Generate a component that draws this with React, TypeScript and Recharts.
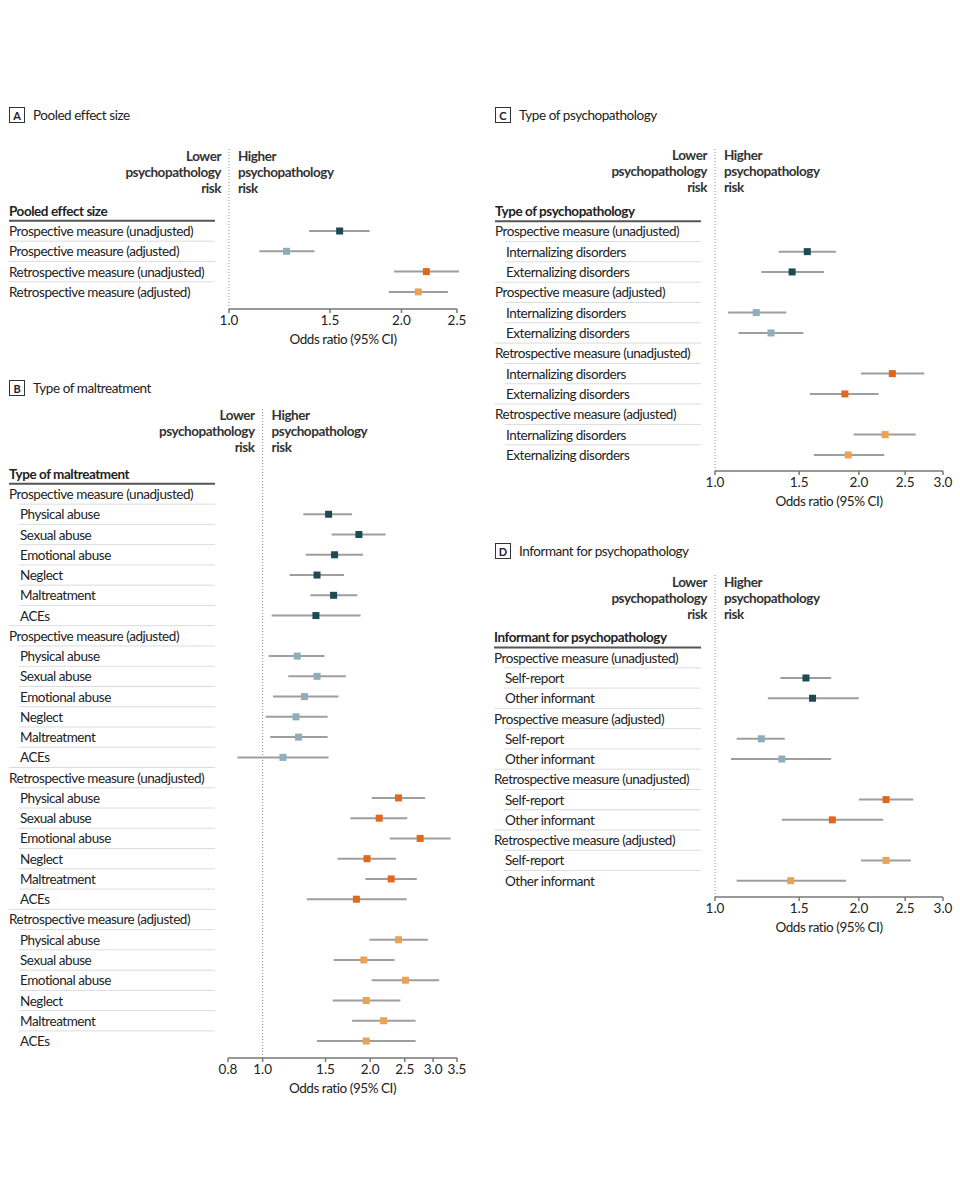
import React from 'react';
import { ScatterChart, Scatter, XAxis, YAxis, ReferenceLine, ErrorBar } from 'recharts';

const FONT = "Lato, 'Liberation Sans Narrow', Roboto, sans-serif";

// ---------- Data ----------
const measureGroups = [
  'Prospective measure (unadjusted)',
  'Prospective measure (adjusted)',
  'Retrospective measure (unadjusted)',
  'Retrospective measure (adjusted)',
];
const seriesKeys = ['prospUnadj', 'prospAdj', 'retroUnadj', 'retroAdj'];
const seriesColors = ['#1e4a56', '#8eaebb', '#e0671c', '#eca255'];

// Panel A: pooled effect size
const pooledOR = [1.56, 1.26, 2.21, 2.14];
const pooledLow = [1.38, 1.13, 1.94, 1.9];
const pooledHigh = [1.76, 1.41, 2.52, 2.41];

// Panel B: type of maltreatment
const maltreatmentTypes = ['Physical abuse', 'Sexual abuse', 'Emotional abuse', 'Neglect', 'Maltreatment', 'ACEs'];
const maltProspUnadjOR = [1.53, 1.86, 1.59, 1.42, 1.58, 1.41];
const maltProspUnadjLow = [1.3, 1.56, 1.32, 1.19, 1.36, 1.06];
const maltProspUnadjHigh = [1.78, 2.21, 1.91, 1.69, 1.84, 1.88];
const maltProspAdjOR = [1.25, 1.42, 1.31, 1.24, 1.26, 1.14];
const maltProspAdjLow = [1.04, 1.18, 1.07, 1.02, 1.05, 0.85];
const maltProspAdjHigh = [1.49, 1.71, 1.63, 1.52, 1.52, 1.53];
const maltRetroUnadjOR = [2.4, 2.12, 2.76, 1.96, 2.29, 1.83];
const maltRetroUnadjLow = [2.02, 1.76, 2.27, 1.62, 1.94, 1.33];
const maltRetroUnadjHigh = [2.85, 2.54, 3.36, 2.36, 2.7, 2.53];
const maltRetroAdjOR = [2.4, 1.92, 2.51, 1.95, 2.18, 1.95];
const maltRetroAdjLow = [1.99, 1.58, 2.02, 1.57, 1.78, 1.42];
const maltRetroAdjHigh = [2.9, 2.34, 3.12, 2.43, 2.68, 2.68];

// Panel C: type of psychopathology
const psychTypes = ['Internalizing disorders', 'Externalizing disorders'];
const psyProspUnadjOR = [1.56, 1.45];
const psyProspUnadjLow = [1.36, 1.25];
const psyProspUnadjHigh = [1.79, 1.69];
const psyProspAdjOR = [1.22, 1.31];
const psyProspAdjLow = [1.065, 1.12];
const psyProspAdjHigh = [1.41, 1.53];
const psyRetroUnadjOR = [2.35, 1.87];
const psyRetroUnadjLow = [2.02, 1.58];
const psyRetroUnadjHigh = [2.74, 2.2];
const psyRetroAdjOR = [2.27, 1.9];
const psyRetroAdjLow = [1.95, 1.61];
const psyRetroAdjHigh = [2.63, 2.26];

// Panel D: informant for psychopathology
const informants = ['Self-report', 'Other informant'];
const infProspUnadjOR = [1.55, 1.6];
const infProspUnadjLow = [1.37, 1.29];
const infProspUnadjHigh = [1.75, 2.0];
const infProspAdjOR = [1.25, 1.38];
const infProspAdjLow = [1.11, 1.08];
const infProspAdjHigh = [1.4, 1.75];
const infRetroUnadjOR = [2.28, 1.76];
const infRetroUnadjLow = [2.0, 1.38];
const infRetroUnadjHigh = [2.6, 2.25];
const infRetroAdjOR = [2.28, 1.44];
const infRetroAdjLow = [2.02, 1.11];
const infRetroAdjHigh = [2.57, 1.88];

const ticksA = [1.0, 1.5, 2.0, 2.5];
const ticksB = [0.8, 1.0, 1.5, 2.0, 2.5, 3.0, 3.5];
const ticksCD = [1.0, 1.5, 2.0, 2.5, 3.0];

// ---------- Row builders ----------
type Row = { label: string; indent?: boolean; group?: boolean; or?: number; lo?: number; hi?: number; series?: number };

function pooledRows(): Row[] {
  return measureGroups.map((g, i) => ({ label: g, or: pooledOR[i], lo: pooledLow[i], hi: pooledHigh[i], series: i }));
}

function groupedRows(items: string[], sets: number[][][]): Row[] {
  const rows: Row[] = [];
  measureGroups.forEach((g, gi) => {
    rows.push({ label: g, group: true });
    const [or, lo, hi] = sets[gi];
    items.forEach((it, k) => rows.push({ label: it, indent: true, or: or[k], lo: lo[k], hi: hi[k], series: gi }));
  });
  return rows;
}

const rowsA = pooledRows();
const rowsB = groupedRows(maltreatmentTypes, [
  [maltProspUnadjOR, maltProspUnadjLow, maltProspUnadjHigh],
  [maltProspAdjOR, maltProspAdjLow, maltProspAdjHigh],
  [maltRetroUnadjOR, maltRetroUnadjLow, maltRetroUnadjHigh],
  [maltRetroAdjOR, maltRetroAdjLow, maltRetroAdjHigh],
]);
const rowsC = groupedRows(psychTypes, [
  [psyProspUnadjOR, psyProspUnadjLow, psyProspUnadjHigh],
  [psyProspAdjOR, psyProspAdjLow, psyProspAdjHigh],
  [psyRetroUnadjOR, psyRetroUnadjLow, psyRetroUnadjHigh],
  [psyRetroAdjOR, psyRetroAdjLow, psyRetroAdjHigh],
]);
const rowsD = groupedRows(informants, [
  [infProspUnadjOR, infProspUnadjLow, infProspUnadjHigh],
  [infProspAdjOR, infProspAdjLow, infProspAdjHigh],
  [infRetroUnadjOR, infRetroUnadjLow, infRetroUnadjHigh],
  [infRetroAdjOR, infRetroAdjLow, infRetroAdjHigh],
]);

// ---------- Components ----------
const TEXT = '#222';
const FS = 13.5;
const LS = -0.45;

function RowTick(props: any) {
  const { y, payload, rows, labelX, colRight, rowStep, header } = props;
  const v = Math.round(payload.value);
  if (v === -1) {
    return (
      <g>
        <text x={labelX} y={y} dominantBaseline="central" fontSize={FS} letterSpacing={LS} fontWeight="bold" fill={TEXT} fontFamily={FONT}>
          {header}
        </text>
        <line x1={labelX} x2={colRight} y1={y + rowStep / 2} y2={y + rowStep / 2} stroke="#555" strokeWidth={2} />
      </g>
    );
  }
  const r: Row = rows[v];
  if (!r) return null;
  const next: Row | undefined = rows[v + 1];
  return (
    <g>
      <text x={labelX + (r.indent ? 11 : 0)} y={y} dominantBaseline="central" fontSize={FS} letterSpacing={LS} fill={TEXT} fontFamily={FONT}>
        {r.label}
      </text>
      {next && (
        <line x1={labelX + (next.indent ? 10 : 0)} x2={colRight} y1={y + rowStep / 2} y2={y + rowStep / 2} stroke="#dcdcdc" strokeWidth={1} />
      )}
    </g>
  );
}

function RiskLabel(props: any) {
  const vb = props.viewBox || {};
  const x = vb.x;
  const top = vb.y;
  const lines = [['Lower', 'Higher'], ['psychopathology', 'psychopathology'], ['risk', 'risk']];
  return (
    <g fontFamily={FONT} fontSize={FS} letterSpacing={LS} fontWeight="bold" fill="#333">
      {lines.map((l, i) => (
        <g key={i}>
          <text x={x - 8} y={top + 8 + i * 16} textAnchor="end" dominantBaseline="central">{l[0]}</text>
          <text x={x + 9} y={top + 8 + i * 16} textAnchor="start" dominantBaseline="central">{l[1]}</text>
        </g>
      ))}
    </g>
  );
}

function AxisTitle(props: any) {
  const vb = props.viewBox || {};
  return (
    <text x={vb.x + vb.width / 2} y={vb.y + 30} textAnchor="middle" dominantBaseline="central" fontSize={FS} letterSpacing={LS} fill={TEXT} fontFamily={FONT}>
      Odds ratio (95% CI)
    </text>
  );
}

function PanelTitle({ letter, title, x, y }: { letter: string; title: string; x: number; y: number }) {
  return (
    <div style={{ position: 'absolute', left: x, top: y, display: 'flex', alignItems: 'center', fontFamily: FONT, color: TEXT }}>
      <span style={{ boxSizing: 'border-box', width: 16, height: 16, border: '1px solid #333', fontSize: 11, fontWeight: 'bold', display: 'inline-flex', alignItems: 'center', justifyContent: 'center' }}>{letter}</span>
      <span style={{ marginLeft: 8, fontSize: FS, letterSpacing: LS }}>{title}</span>
    </div>
  );
}

type Cfg = {
  left: number; chartTop: number; width: number; plotTop: number; axisY: number;
  plotLeft: number; plotRight: number; labelX: number; colRight: number;
  firstRowY: number; rowStep: number; rows: Row[]; domain: [number, number]; ticks: number[];
  header: string;
};

function ForestPanel({ cfg }: { cfg: Cfg }) {
  const { left, chartTop, width, plotTop, axisY, plotLeft, plotRight, labelX, colRight, firstRowY, rowStep, rows, domain, ticks, header } = cfg;
  const n = rows.length;
  const axisH = 45;
  const height = axisY - chartTop + axisH + 6;
  const yMin = -(firstRowY - plotTop) / rowStep;
  const yMax = n - 1 + (axisY - (firstRowY + (n - 1) * rowStep)) / rowStep;
  const yTicks = [-1, ...rows.map((_, i) => i)];
  const points = rows.map((r, i) => ({ ...r, y: i })).filter((r) => r.or != null).map((r) => ({ x: r.or as number, y: r.y, err: [(r.or as number) - (r.lo as number), (r.hi as number) - (r.or as number)], series: r.series }));
  return (
    <div style={{ position: 'absolute', left, top: chartTop }}>
      <ScatterChart width={width} height={height} margin={{ top: plotTop - chartTop, right: width - (plotRight - left), left: 0, bottom: 6 }}>
        <XAxis
          type="number"
          dataKey="x"
          scale="log"
          domain={domain}
          ticks={ticks}
          allowDataOverflow
          interval={0}
          height={axisH}
          tickFormatter={(v: number) => v.toFixed(1)}
          axisLine={{ stroke: '#777', strokeWidth: 1.5 }}
          tickLine={{ stroke: '#777', strokeWidth: 1.5 }}
          tickSize={4}
          tick={{ fontSize: FS, fill: TEXT, fontFamily: FONT }}
          label={<AxisTitle />}
        />
        <YAxis
          type="number"
          dataKey="y"
          domain={[yMin, yMax]}
          reversed
          allowDataOverflow
          ticks={yTicks}
          interval={0}
          width={plotLeft - left}
          axisLine={false}
          tickLine={false}
          tick={(p: any) => <RowTick {...p} rows={rows} labelX={labelX - left} colRight={colRight - left} rowStep={rowStep} header={header} />}
        />
        <ReferenceLine x={1} stroke="#8a8a8a" strokeDasharray="1 2" label={<RiskLabel />} />
        {seriesKeys.map((k, si) => (
          <Scatter
            key={k}
            name={measureGroups[si]}
            data={points.filter((p) => p.series === si)}
            isAnimationActive={false}
            shape={(sp: any) => <rect x={sp.cx - 3.5} y={sp.cy - 3.5} width={7} height={7} fill={seriesColors[si]} />}
          >
            <ErrorBar dataKey="err" direction="x" width={0} stroke="#9e9e9e" strokeWidth={2} />
          </Scatter>
        ))}
      </ScatterChart>
    </div>
  );
}

const cfgA: Cfg = {
  left: 0, chartTop: 130, width: 480, plotTop: 148, axisY: 309, plotLeft: 229, plotRight: 457,
  labelX: 9, colRight: 215, firstRowY: 231, rowStep: 20.3, rows: rowsA, domain: [1.0, 2.5], ticks: ticksA,
  header: 'Pooled effect size',
};
const cfgB: Cfg = {
  left: 0, chartTop: 400, width: 480, plotTop: 407, axisY: 1058, plotLeft: 228, plotRight: 457,
  labelX: 9, colRight: 215, firstRowY: 494, rowStep: 20.26, rows: rowsB, domain: [0.8, 3.5], ticks: ticksB,
  header: 'Type of maltreatment',
};
const cfgC: Cfg = {
  left: 480, chartTop: 130, width: 480, plotTop: 147, axisY: 471, plotLeft: 715, plotRight: 943,
  labelX: 495, colRight: 701, firstRowY: 231.3, rowStep: 20.33, rows: rowsC, domain: [1.0, 3.0], ticks: ticksCD,
  header: 'Type of psychopathology',
};
const cfgD: Cfg = {
  left: 480, chartTop: 560, width: 480, plotTop: 574, axisY: 897, plotLeft: 715, plotRight: 943,
  labelX: 494, colRight: 701, firstRowY: 657.7, rowStep: 20.27, rows: rowsD, domain: [1.0, 3.0], ticks: ticksCD,
  header: 'Informant for psychopathology',
};

export default function App() {
  return (
    <div style={{ position: 'absolute', left: 0, top: 0, width: 960, height: 1200, background: '#fff', overflow: 'hidden' }}>
      <PanelTitle letter="A" title="Pooled effect size" x={9} y={107} />
      <PanelTitle letter="B" title="Type of maltreatment" x={9} y={380} />
      <PanelTitle letter="C" title="Type of psychopathology" x={495} y={107} />
      <PanelTitle letter="D" title="Informant for psychopathology" x={495} y={543} />
      <ForestPanel cfg={cfgA} />
      <ForestPanel cfg={cfgB} />
      <ForestPanel cfg={cfgC} />
      <ForestPanel cfg={cfgD} />
    </div>
  );
}
